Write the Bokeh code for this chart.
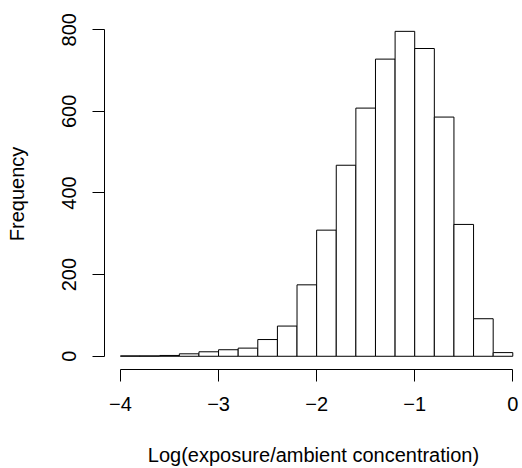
from bokeh.plotting import figure
from bokeh.models import Range1d, FixedTicker
from bokeh.embed import file_html
from bokeh.resources import INLINE

# Histogram data (bin edges and counts)
breaks = [-4.0, -3.8, -3.6, -3.4, -3.2, -3.0, -2.8, -2.6, -2.4, -2.2, -2.0,
          -1.8, -1.6, -1.4, -1.2, -1.0, -0.8, -0.6, -0.4, -0.2, 0.0]
counts = [1, 1, 2, 6, 11, 16, 20, 41, 74, 175, 309, 468, 608, 728, 796,
          754, 586, 323, 92, 9]
x_ticks = [-4, -3, -2, -1, 0]
x_tick_labels = {-4: "\u22124", -3: "\u22123", -2: "\u22122", -1: "\u22121", 0: "0"}
y_ticks = [0, 200, 400, 600, 800]

FONT = "Liberation Sans"

p = figure(width=522, height=468, output_backend="svg", toolbar_location=None,
           x_range=Range1d(-4.163, 0.099), y_range=Range1d(-32.4, 827.5),
           min_border_left=104, min_border_right=0, min_border_top=18,
           min_border_bottom=97)
p.outline_line_color = None
p.xgrid.visible = False
p.ygrid.visible = False
p.background_fill_color = "white"
p.border_fill_color = "white"

p.quad(left=breaks[:-1], right=breaks[1:], bottom=0, top=counts,
       fill_color="white", line_color="black", line_width=1)

for ax in (p.xaxis[0], p.yaxis[0]):
    ax.axis_line_color = "black"
    ax.axis_line_width = 1
    ax.major_tick_line_color = "black"
    ax.major_tick_in = 0
    ax.major_tick_out = 12
    ax.minor_tick_line_color = None
    ax.major_label_text_font = FONT
    ax.major_label_text_font_size = "20px"
    ax.major_label_text_color = "black"
    ax.axis_label_text_font = FONT
    ax.axis_label_text_font_size = "20px"
    ax.axis_label_text_font_style = "normal"
    ax.axis_label_text_color = "black"

p.xaxis.ticker = FixedTicker(ticks=x_ticks)
p.xaxis.major_label_overrides = x_tick_labels
p.xaxis.bounds = (x_ticks[0], x_ticks[-1])
p.xaxis.major_label_standoff = 15
p.xaxis.axis_label = "Log(exposure/ambient concentration)"
p.xaxis.axis_label_standoff = 30

p.yaxis.ticker = FixedTicker(ticks=y_ticks)
p.yaxis.bounds = (y_ticks[0], y_ticks[-1])
p.yaxis.major_label_orientation = "vertical"
p.yaxis.major_label_standoff = 16
p.yaxis.axis_label = "Frequency"
p.yaxis.axis_label_standoff = 32

open("out.html", "w").write(file_html(p, INLINE))
